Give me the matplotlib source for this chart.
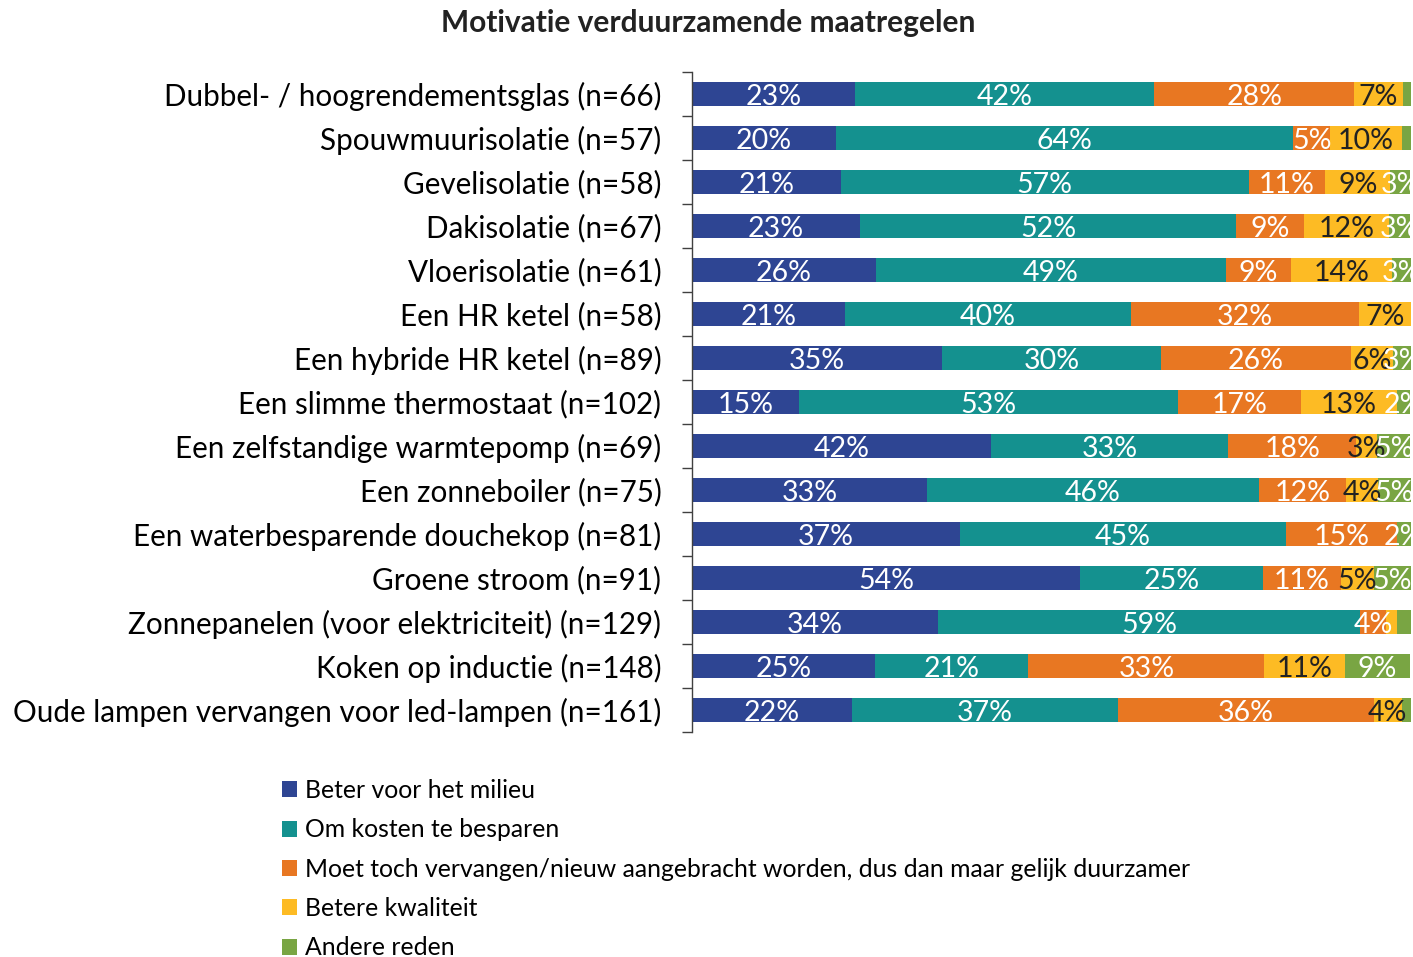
import matplotlib
matplotlib.use("Agg")
import matplotlib.pyplot as plt
from matplotlib.patches import Patch
import numpy as np

plt.rcParams['font.family'] = ['Lato', 'DejaVu Sans']

title = "Motivatie verduurzamende maatregelen"

categories = [
    "Dubbel- / hoogrendementsglas (n=66)",
    "Spouwmuurisolatie (n=57)",
    "Gevelisolatie (n=58)",
    "Dakisolatie (n=67)",
    "Vloerisolatie (n=61)",
    "Een HR ketel (n=58)",
    "Een hybride HR ketel (n=89)",
    "Een slimme thermostaat (n=102)",
    "Een zelfstandige warmtepomp (n=69)",
    "Een zonneboiler (n=75)",
    "Een waterbesparende douchekop (n=81)",
    "Groene stroom (n=91)",
    "Zonnepanelen (voor elektriciteit) (n=129)",
    "Koken op inductie (n=148)",
    "Oude lampen vervangen voor led-lampen (n=161)",
]

series_names = [
    "Beter voor het milieu",
    "Om kosten te besparen",
    "Moet toch vervangen/nieuw aangebracht worden, dus dan maar gelijk duurzamer",
    "Betere kwaliteit",
    "Andere reden",
]

milieu    = [22.7, 20.0, 20.7, 23.4, 25.6, 21.3, 34.8, 14.9, 41.6, 32.7, 37.3, 54.0, 34.2, 25.4, 22.3]
kosten    = [41.6, 63.6, 56.7, 52.3, 48.7, 39.7, 30.4, 52.7, 33.0, 46.1, 45.3, 25.4, 58.7, 21.4, 36.9]
vervangen = [27.8,  5.2, 10.7,  9.4,  9.0, 31.7, 26.4, 17.1, 17.8, 12.2, 15.4, 10.8,  3.6, 32.8, 35.6]
kwaliteit = [ 6.8,  9.9,  9.0, 11.8, 14.0,  7.3,  5.9, 13.4,  2.9,  4.4,  0.0,  4.6,  1.5, 11.2,  3.9]
andere    = [ 1.1,  1.3,  2.8,  3.0,  2.7,  0.0,  2.6,  1.8,  4.6,  4.6,  2.0,  5.2,  2.0,  9.0,  1.3]

# segments without a data label in the original (row index, series index)
hidden_labels = {(0, 4), (1, 4), (12, 3), (12, 4), (14, 4)}

colors = ["#2E4593", "#14918F", "#E87722", "#FDBB24", "#79A543"]
text_colors = ["white", "white", "white", "#222222", "white"]

data = [milieu, kosten, vervangen, kwaliteit, andere]

fig = plt.figure(figsize=(14.13, 9.57), dpi=100)
ax = fig.add_axes([692/1413, 1-732/957, (1411-692)/1413, 660/957])

y = np.arange(len(categories))
left = np.zeros(len(categories))
for si, vals in enumerate(data):
    vals = np.array(vals)
    ax.barh(y, vals, left=left, height=0.55, color=colors[si],
            label=series_names[si], linewidth=0)
    for ri, v in enumerate(vals):
        if v <= 0 or (ri, si) in hidden_labels:
            continue
        ax.text(left[ri] + v/2, ri + 0.06, f"{round(v):d}%", ha="center", va="center",
                color=text_colors[si], fontsize=20.5, clip_on=True)
    left += vals

ax.set_xlim(0, 100)
ax.set_ylim(len(categories) - 0.5, -0.5)
for s in ["top", "right", "bottom"]:
    ax.spines[s].set_visible(False)
ax.spines["left"].set_color("#404040")
ax.spines["left"].set_linewidth(1.0)
ax.set_xticks([])
ax.set_yticks(y)
ax.set_yticklabels(categories, fontsize=21.3)
ax.tick_params(axis="y", which="major", length=0, pad=22)
ax.set_yticks(np.arange(-0.5, len(categories), 1.0), minor=True)
ax.tick_params(axis="y", which="minor", length=7, width=1.0, color="#404040", direction="out")

fig.text(708/1413, 1-23/957, title, ha="center", va="center", fontsize=21.5, fontweight="bold",
         color="#222222")

handles = [Patch(facecolor=c, edgecolor="none") for c in colors]
fig.legend(handles, series_names, loc="upper left", bbox_to_anchor=(282/1413, 1-779/957),
           frameon=False, fontsize=17.8, handlelength=0.62, handleheight=0.62,
           handletextpad=0.3, labelspacing=0.66, borderaxespad=0, borderpad=0)

fig.savefig("out.png", dpi=100)
